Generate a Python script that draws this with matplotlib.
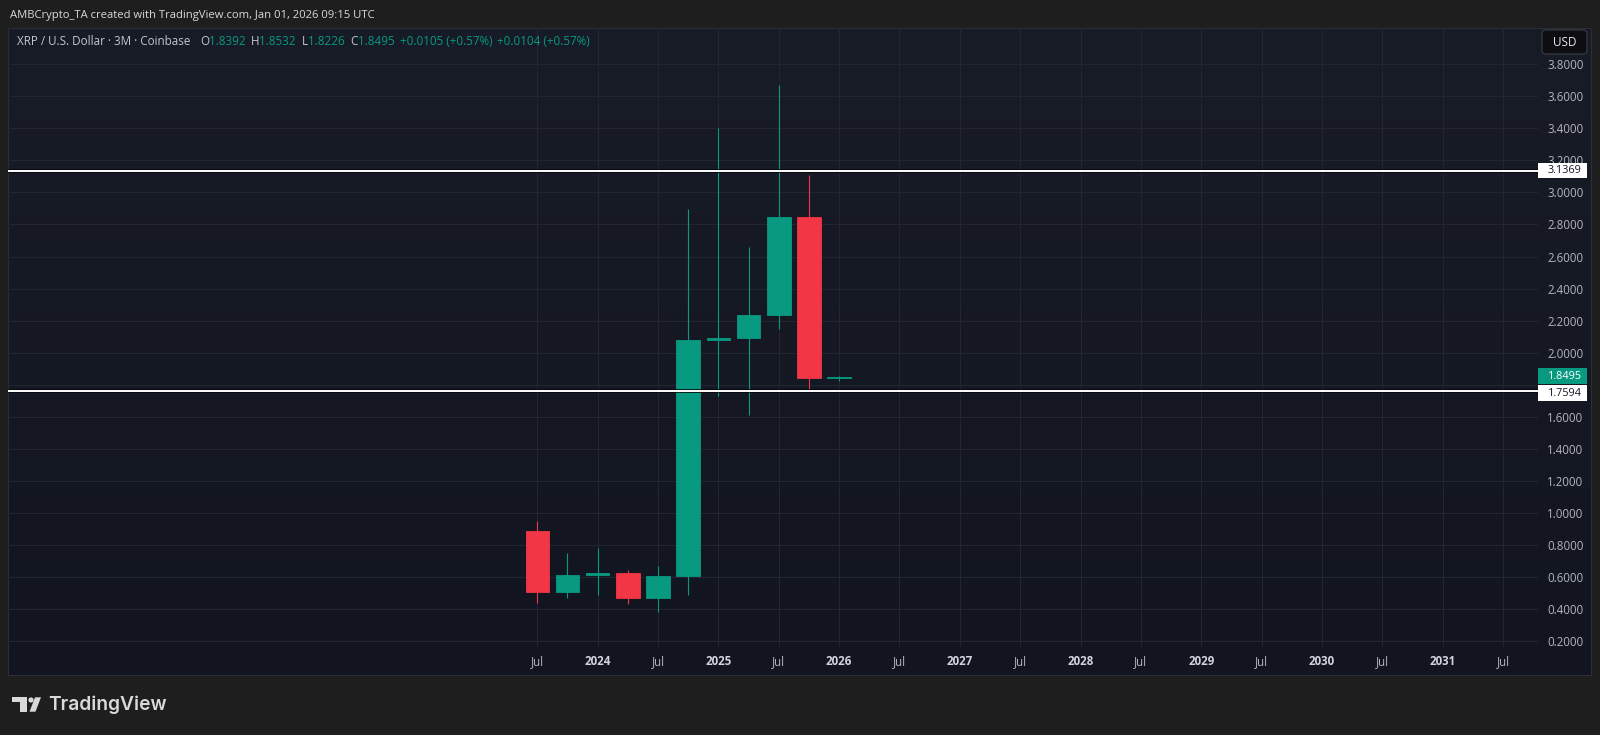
import matplotlib
matplotlib.use("Agg")
import matplotlib.pyplot as plt
import matplotlib.patheffects as pe
import numpy as np
from matplotlib.patches import Rectangle, FancyBboxPatch, Circle, Polygon
from matplotlib.colors import LinearSegmentedColormap

plt.rcParams['font.family'] = ['Open Sans', 'DejaVu Sans']

# XRP / USD, Coinbase, 3M candles (Q3 2023 .. Q1 2026)
quarters = ['2023Q3', '2023Q4', '2024Q1', '2024Q2', '2024Q3', '2024Q4',
            '2025Q1', '2025Q2', '2025Q3', '2025Q4', '2026Q1']
opens = [0.889, 0.508, 0.610, 0.626, 0.470, 0.606, 2.077, 2.090, 2.235, 2.849, 1.8392]
highs = [0.949, 0.748, 0.781, 0.643, 0.666, 2.897, 3.402, 2.660, 3.671, 3.107, 1.8532]
lows = [0.439, 0.470, 0.485, 0.431, 0.381, 0.485, 1.731, 1.611, 2.150, 1.771, 1.8226]
closes = [0.508, 0.610, 0.626, 0.470, 0.606, 2.077, 2.090, 2.235, 2.849, 1.8392, 1.8495]

# time axis labels, one every 2 bars (half year)
time_labels = ['Jul', '2024', 'Jul', '2025', 'Jul', '2026', 'Jul', '2027', 'Jul',
               '2028', 'Jul', '2029', 'Jul', '2030', 'Jul', '2031', 'Jul']
price_ticks = [0.2, 0.4, 0.6, 0.8, 1.0, 1.2, 1.4, 1.6, 1.8, 2.0, 2.2, 2.4,
               2.6, 2.8, 3.0, 3.2, 3.4, 3.6, 3.8]

levels = [3.1369, 1.7594]
last_price = 1.8495

header = 'AMBCrypto_TA created with TradingView.com, Jan 01, 2026 09:15 UTC'
legend_parts = [('XRP / U.S. Dollar · 3M · Coinbase', 17.3, 'gray'),
                ('O', 200, 'gray'), ('1.8392', 209, 'green'),
                ('H', 251, 'gray'), ('1.8532', 259.3, 'green'),
                ('L', 301.7, 'gray'), ('1.8226', 308.3, 'green'),
                ('C', 350, 'gray'), ('1.8495', 358.3, 'green'),
                ('+0.0105 (+0.57%)', 400, 'green'),
                ('+0.0104 (+0.57%)', 496.7, 'green')]

UP = '#089981'
DOWN = '#f23645'
GRID = '#222633'
TXT = '#b2b5be'

W, H = 1600, 735
fig = plt.figure(figsize=(16, 7.35), dpi=100)
fig.patch.set_facecolor('#1e1e1e')


def frac_box(l, t, r, b):
    return [l / W, 1 - b / H, (r - l) / W, (b - t) / H]


# pane background with a slight vertical gradient
bg = fig.add_axes(frac_box(8.3, 28.3, 1591, 675))
cmap = LinearSegmentedColormap.from_list('pane', ['#181c27', '#121520'])
bg.imshow(np.linspace(0, 1, 256).reshape(-1, 1), aspect='auto', cmap=cmap,
          extent=[0, 1, 0, 1], origin='upper')
bg.set_xticks([])
bg.set_yticks([])
for s in bg.spines.values():
    s.set_color('#2a2e39')

# main chart
ax = fig.add_axes(frac_box(8.3, 28.3, 1538, 646.7))
ax.set_facecolor('none')
ax.set_xlim(-17.53, 33.16)
ax.set_ylim(0.1645, 4.0247)
for s in ax.spines.values():
    s.set_visible(False)

ax.yaxis.tick_right()
ax.set_yticks(price_ticks)
# 1.8000 sits fully under the price tags, so its label is left blank
ax.set_yticklabels(['' if v == 1.8 else f'{v:.4f}' for v in price_ticks])
ax.tick_params(axis='y', length=0, pad=6.5, labelsize=8.3, labelcolor=TXT)
ax.set_xticks([])

for v in price_ticks:
    ax.axhline(v, color=GRID, lw=0.8, zorder=0)

tick_idx = list(range(0, 2 * len(time_labels), 2))
for i, lab in zip(tick_idx, time_labels):
    ax.axvline(i, color=GRID, lw=0.8, zorder=0)
    is_year = lab != 'Jul'
    ax.text(i, -0.0247, lab, transform=ax.get_xaxis_transform(), ha='center', va='center',
            fontsize=8.3, color='#d1d4dc' if is_year else TXT,
            fontweight='bold' if is_year else 'normal', clip_on=False)

# candles
x = np.arange(len(quarters))
for i in x:
    o, h, l, c = opens[i], highs[i], lows[i], closes[i]
    col = UP if c >= o else DOWN
    ax.vlines(i, l, h, color=col, lw=0.8, zorder=3)
    ax.bar(i, max(abs(c - o), 0.004), bottom=min(o, c), width=0.78,
           color=col, edgecolor=col, lw=0.6, zorder=4)

# horizontal levels
for p in levels:
    ax.axhline(p, color='white', lw=1.4, zorder=5,
               path_effects=[pe.Stroke(linewidth=2.6, foreground='#05070b'), pe.Normal()])

# overlay in pixel coordinates
ov = fig.add_axes([0, 0, 1, 1], zorder=10)
ov.set_xlim(0, W)
ov.set_ylim(H, 0)
ov.axis('off')


def price_to_px(p):
    return H - ax.transData.transform((0, p))[1]


fig.canvas.draw()
# price scale tags (the lowest one sits just under the last-price tag)
for p, fc, tc, nudge in [(last_price, UP, 'white', -0.6), (levels[0], 'white', '#131722', 0),
                         (levels[1], 'white', '#131722', 1.9)]:
    py = price_to_px(p) + nudge
    ov.add_patch(Rectangle((1538, py - 7.8), 49, 15.6, fc=fc, ec='none'))
    ov.text(1565, py, f'{p:.4f}', ha='center', va='center', fontsize=7.8, color=tc)

# USD button
ov.add_patch(FancyBboxPatch((1542, 30), 45, 24, boxstyle='round,pad=0,rounding_size=4',
                            fc='#0e0e10', ec='#3a3e48', lw=0.8))
ov.text(1564.5, 42.5, 'USD', ha='center', va='center', fontsize=8.5, color='#e8e8e8')

# header and legend
ov.text(10, 15, header, ha='left', va='center', fontsize=8.1, color='#d9d9d9')
for txt, px, kind in legend_parts:
    ov.text(px, 41.7, txt, ha='left', va='center', fontsize=8.4,
            color=UP if kind == 'green' else '#c3c6ce')

# TradingView logo
LOGO = '#d9d9d9'
ov.add_patch(Rectangle((11.7, 697.3), 15.6, 5, fc=LOGO, ec='none'))
ov.add_patch(Rectangle((20, 697.3), 7.3, 14.4, fc=LOGO, ec='none'))
ov.add_patch(Circle((31, 700), 2.6, fc=LOGO, ec='none'))
ov.add_patch(Polygon([(29.5, 711.7), (35.5, 711.7), (41, 697.3), (35, 697.3)],
                     closed=True, fc=LOGO, ec='none'))
ov.text(48.5, 704.5, 'TradingView', ha='left', va='center', fontsize=13.8,
        fontweight='semibold', color=LOGO, family=['Inter', 'DejaVu Sans'])

fig.savefig('out.png', dpi=100, facecolor=fig.get_facecolor())
